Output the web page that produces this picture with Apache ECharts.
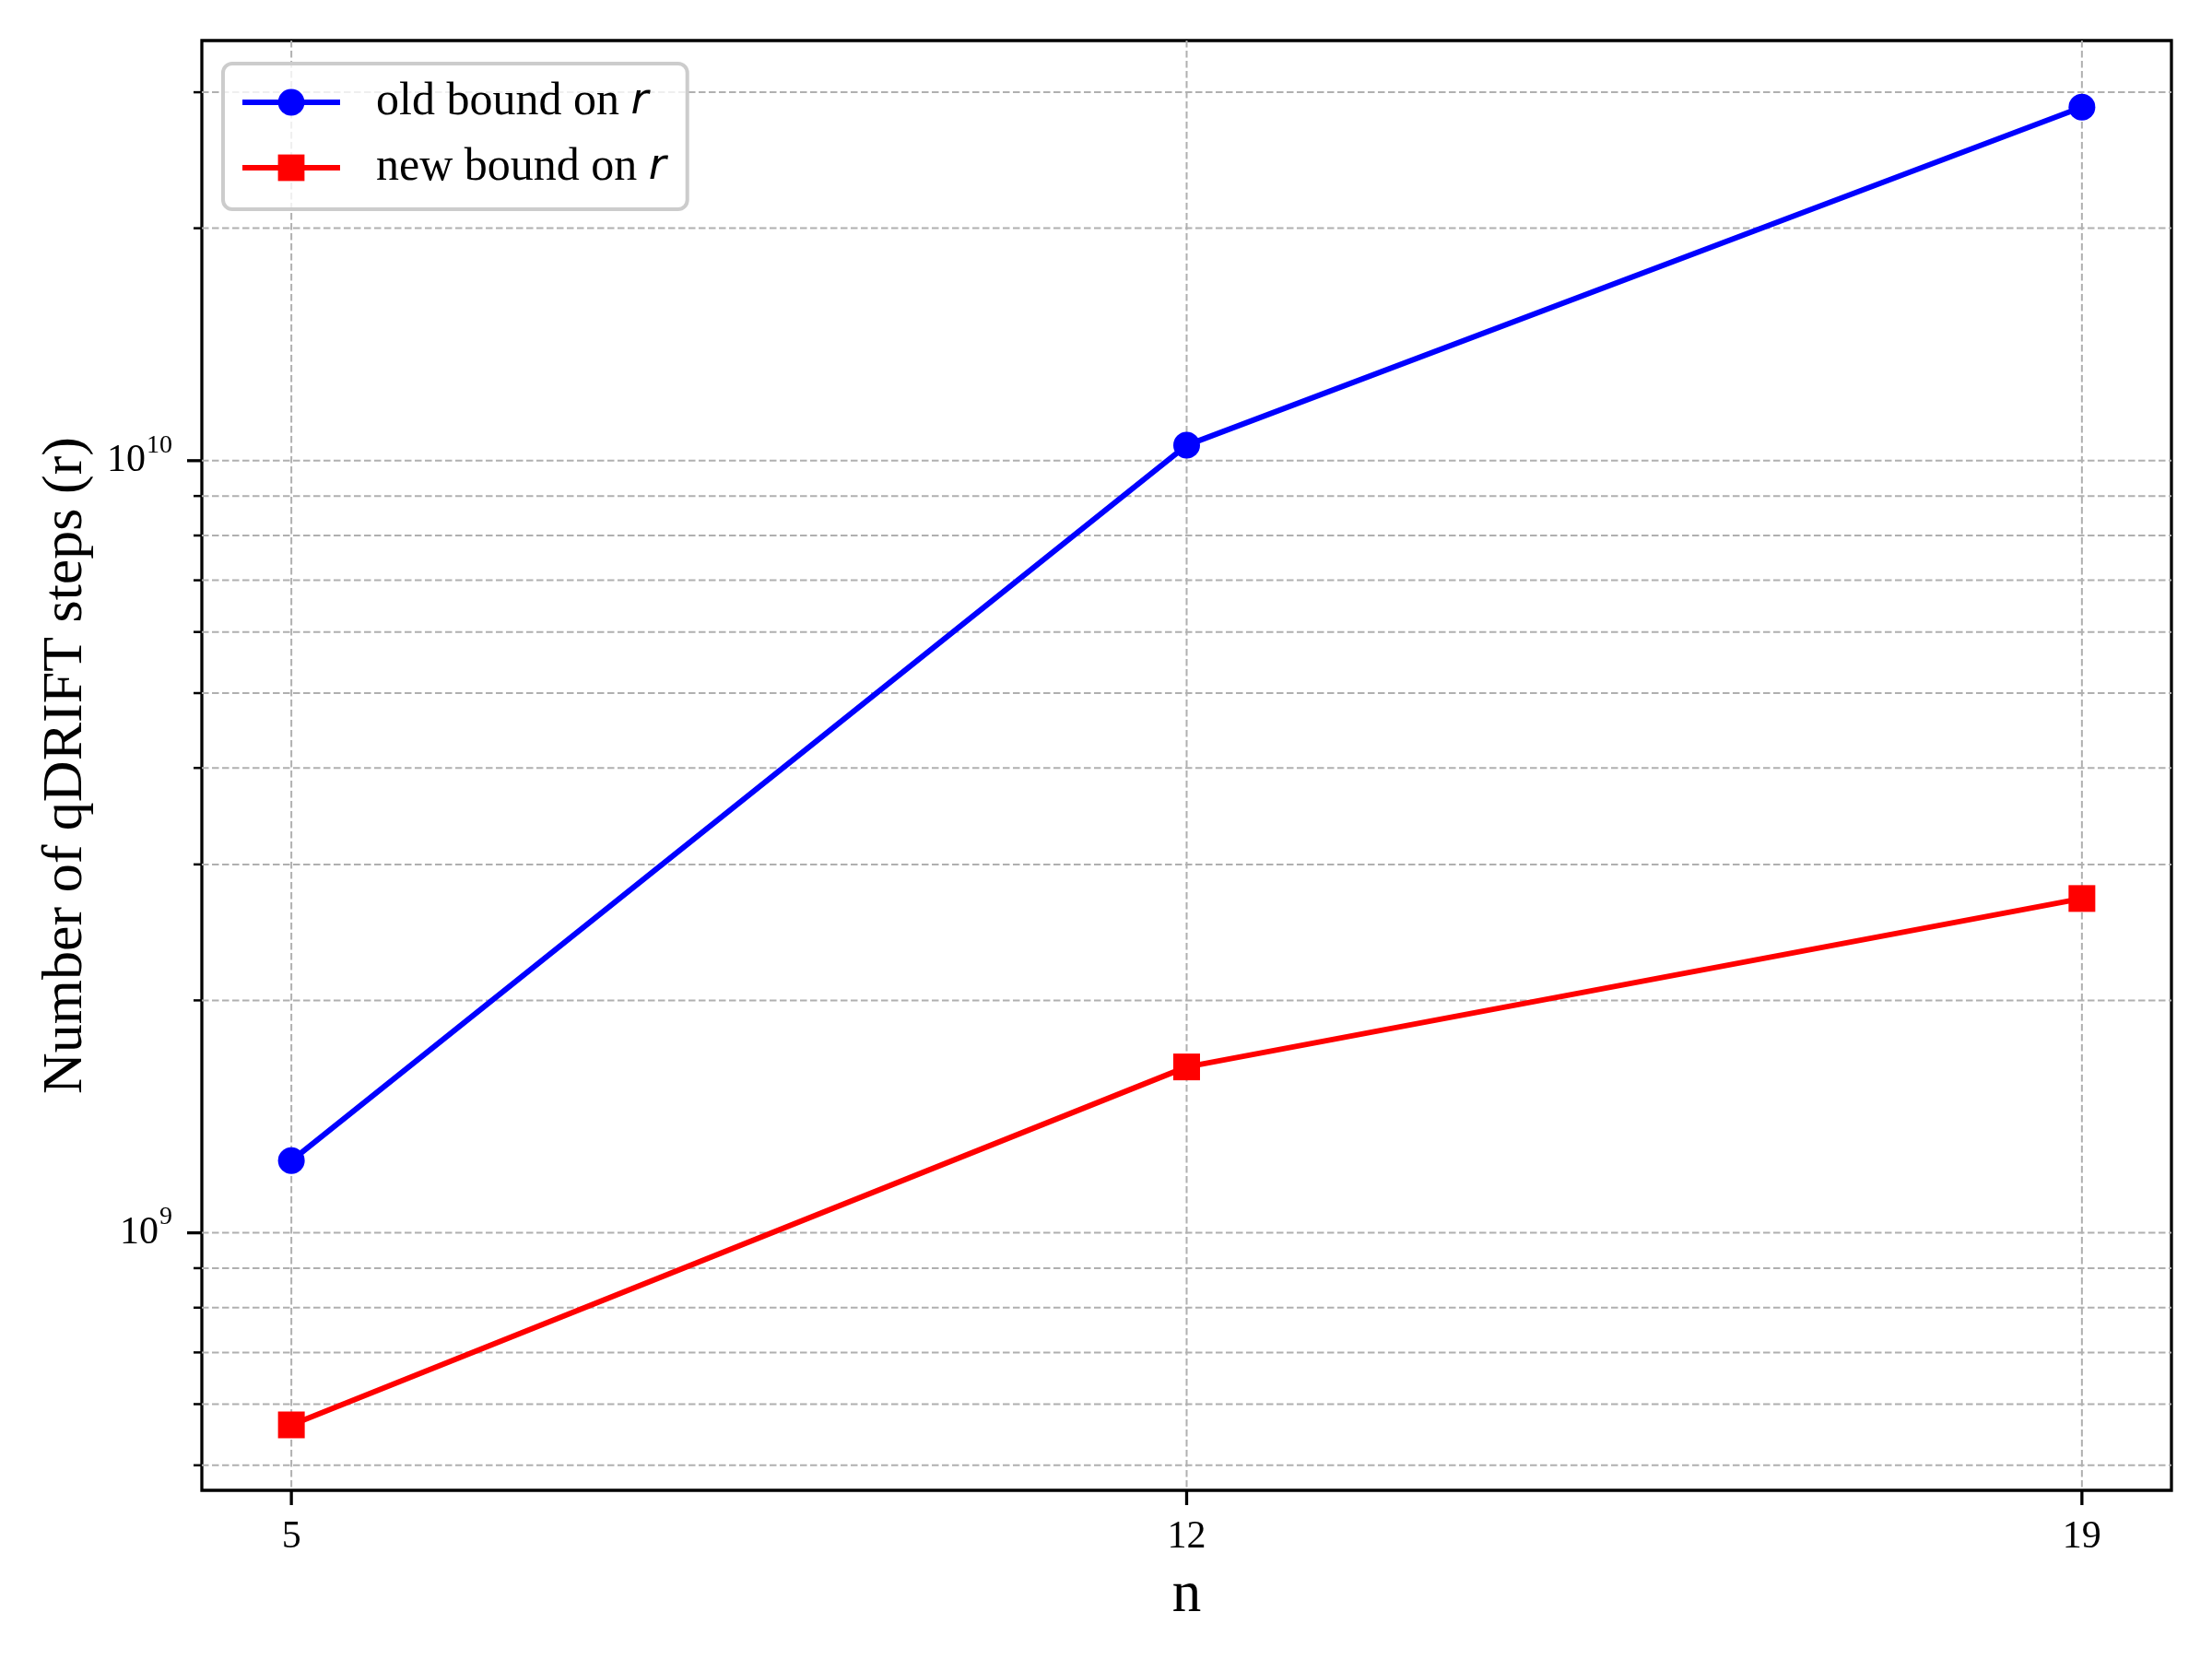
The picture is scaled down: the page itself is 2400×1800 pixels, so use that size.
<!DOCTYPE html>
<html>
<head>
<meta charset="utf-8">
<script src="https://cdn.jsdelivr.net/npm/echarts@6/dist/echarts.min.js"></script>
<style>
html,body{margin:0;padding:0;background:#fff;}
#chart{width:2400px;height:1800px;}
</style>
</head>
<body>
<div id="chart"></div>
<script>
// ---- data ----
const nValues = [5, 12, 19];
const oldBound = [1.24e9, 1.047e10, 2.87e10];
const newBound = [5.64e8, 1.64e9, 2.71e9];
const seriesNames = ['old bound on ', 'new bound on '];
const xTickValues = [5, 12, 19];
const yMajorTicks = [1e9, 1e10];
const yMinorTicks = [5e8, 6e8, 7e8, 8e8, 9e8, 2e9, 3e9, 4e9, 5e9, 6e9, 7e9, 8e9, 9e9, 2e10, 3e10];
const xRange = [4.3, 19.7];
const yRange = [4.64e8, 3.5e10];

const FONT = 'Liberation Serif';
const GRID_STYLE = {stroke: '#b0b0b0', lineWidth: 2, lineDash: [7.5, 3.5]};

const chart = echarts.init(document.getElementById('chart'), null, {renderer: 'canvas'});

function yGridRender(isMajor) {
  return function (params, api) {
    const cs = params.coordSys;
    const p = api.coord([api.value(0), api.value(1)]);
    const y = p[1];
    const len = isMajor ? 16 : 9;
    return {
      type: 'group',
      children: [
        {type: 'line', shape: {x1: cs.x, y1: y, x2: cs.x + cs.width, y2: y}, style: GRID_STYLE},
        {type: 'line', shape: {x1: cs.x - len, y1: y, x2: cs.x, y2: y}, style: {stroke: '#000', lineWidth: isMajor ? 3.3 : 2.5}}
      ]
    };
  };
}
function xGridRender(params, api) {
  const cs = params.coordSys;
  const p = api.coord([api.value(0), api.value(1)]);
  const x = p[0];
  return {
    type: 'group',
    children: [
      {type: 'line', shape: {x1: x, y1: cs.y, x2: x, y2: cs.y + cs.height}, style: GRID_STYLE},
      {type: 'line', shape: {x1: x, y1: cs.y + cs.height, x2: x, y2: cs.y + cs.height + 16}, style: {stroke: '#000', lineWidth: 3.3}}
    ]
  };
}

const option = {
  backgroundColor: '#fff',
  animation: false,
  grid: {
    left: 219, right: 44, top: 44, bottom: 183,
    show: true, borderColor: '#000', borderWidth: 3.3, backgroundColor: 'transparent'
  },
  legend: {
    left: 242, top: 69,
    orient: 'vertical',
    data: seriesNames.map(s => s + 'r'),
    itemWidth: 106, itemHeight: 36, itemGap: 21,
    padding: [17, 23, 20, 18],
    borderColor: '#cccccc', borderWidth: 4, borderRadius: 10,
    backgroundColor: 'rgba(255,255,255,0.8)',
    lineStyle: {width: 6},
    formatter: function (name) {
      return name.slice(0, name.length - 1) + '{i|r}';
    },
    textStyle: {
      fontFamily: FONT, fontSize: 50, color: '#000', lineHeight: 50,
      padding: [0, 0, 0, 34],
      rich: {
        i: {fontFamily: 'DejaVu Sans', fontStyle: 'italic', fontSize: 46, color: '#000', lineHeight: 50}
      }
    }
  },
  xAxis: {
    type: 'value', min: xRange[0], max: xRange[1],
    name: 'n', nameLocation: 'middle', nameGap: 83,
    nameTextStyle: {fontFamily: FONT, fontSize: 63, color: '#000'},
    axisLine: {show: false},
    axisTick: {show: false},
    splitLine: {show: false},
    axisLabel: {
      customValues: xTickValues, margin: 30,
      fontFamily: FONT, fontSize: 42, color: '#000'
    }
  },
  yAxis: {
    type: 'log', logBase: 10, min: yRange[0], max: yRange[1],
    name: 'Number of qDRIFT steps (r)', nameLocation: 'middle', nameGap: 116,
    nameTextStyle: {fontFamily: FONT, fontSize: 62, color: '#000'},
    axisLine: {show: false},
    axisTick: {show: false},
    splitLine: {show: false},
    minorTick: {show: false},
    minorSplitLine: {show: false},
    axisLabel: {
      showMinLabel: false, showMaxLabel: false, margin: 32,
      formatter: function (v) {
        const e = Math.round(Math.log10(v));
        if (Math.abs(v / Math.pow(10, e) - 1) > 1e-6) return '';
        return '{b|10}{s|' + e + '}';
      },
      rich: {
        b: {fontFamily: FONT, fontSize: 42, lineHeight: 42, color: '#000', verticalAlign: 'middle'},
        s: {fontFamily: FONT, fontSize: 28, lineHeight: 28, color: '#000', verticalAlign: 'middle', padding: [0, 0, 33, 1]}
      }
    }
  },
  series: [
    {
      type: 'custom', name: 'yminor', silent: true, clip: false, z: 1,
      renderItem: yGridRender(false),
      data: yMinorTicks.map(v => [xRange[0], v])
    },
    {
      type: 'custom', name: 'ymajor', silent: true, clip: false, z: 1,
      renderItem: yGridRender(true),
      data: yMajorTicks.map(v => [xRange[0], v])
    },
    {
      type: 'custom', name: 'xgrid', silent: true, clip: false, z: 1,
      renderItem: xGridRender,
      data: xTickValues.map(v => [v, yRange[0]])
    },
    {
      type: 'line', name: seriesNames[0] + 'r', z: 3,
      data: nValues.map((n, i) => [n, oldBound[i]]),
      color: '#0000ff',
      lineStyle: {color: '#0000ff', width: 6},
      symbol: 'circle', symbolSize: 29,
      itemStyle: {color: '#0000ff'}
    },
    {
      type: 'line', name: seriesNames[1] + 'r', z: 3,
      data: nValues.map((n, i) => [n, newBound[i]]),
      color: '#ff0000',
      lineStyle: {color: '#ff0000', width: 6},
      symbol: 'rect', symbolSize: 29,
      itemStyle: {color: '#ff0000'}
    }
  ]
};
chart.setOption(option);
</script>
</body>
</html>
